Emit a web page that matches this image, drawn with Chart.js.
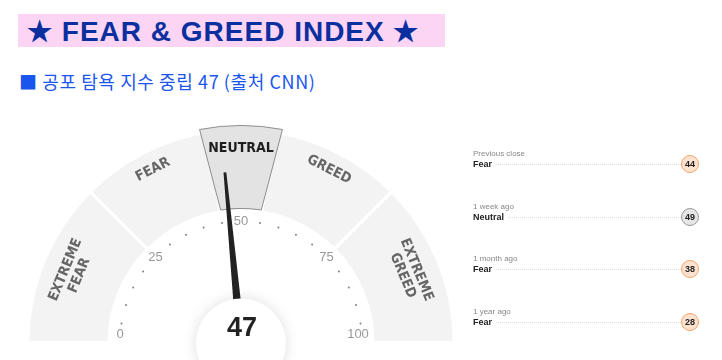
<!DOCTYPE html>
<html><head><meta charset="utf-8">
<script src="https://cdn.jsdelivr.net/npm/chart.js@4"></script>
<style>
html,body{margin:0;padding:0;width:722px;height:360px;overflow:hidden;background:#fff;}
#title{position:absolute;left:18px;top:14px;width:427px;height:33px;background:#fcd5f4;}
#title span{position:absolute;left:9px;top:-1px;font:bold 28px "Liberation Sans",Arial,sans-serif;letter-spacing:1px;color:#0b2f9f;white-space:nowrap;line-height:37px;}
#sub{position:absolute;left:19px;top:69px;font:18px "Noto Sans CJK KR","Noto Sans",sans-serif;letter-spacing:0.6px;color:#1a55ee;white-space:nowrap;line-height:24px;}
#wrap{position:absolute;left:0;top:115px;width:482px;height:278px;}
.row{position:absolute;left:473px;width:230px;height:30px;font-family:"Liberation Sans",Arial,sans-serif;}
.lab{position:absolute;left:0;top:0;font-size:8px;color:#888;line-height:10px;}
.rat{position:absolute;left:0;top:9px;font-size:9px;font-weight:bold;color:#222;line-height:12px;background:#fff;padding-right:4px;}
.dot{position:absolute;left:22px;right:22px;top:15px;border-top:1px dotted #dcdcdc;}
.circ{position:absolute;left:208px;top:6px;width:16px;height:16px;border-radius:50%;font-size:9px;font-weight:bold;color:#222;text-align:center;line-height:16px;}
</style></head>
<body>
<div id="title"><span>★ FEAR &amp; GREED INDEX ★</span></div>
<div id="sub">■ 공포 탐욕 지수 중립 47 (출처 CNN)</div>
<div id="wrap"><canvas id="c"></canvas></div>
<div id="panel"></div>
<script>
// ---- data ----
const zoneNames = [["EXTREME","FEAR"],["FEAR"],["NEUTRAL"],["GREED"],["EXTREME","GREED"]];
const zoneSizes = [25, 20, 10, 20, 25];
const currentValue = 47;
const activeZone = 2;
const tickLabels = [0, 25, 50, 75, 100];
const historyLabels = ["Previous close", "1 week ago", "1 month ago", "1 year ago"];
const historyRatings = ["Fear", "Neutral", "Fear", "Fear"];
const historyValues = [44, 49, 38, 28];

// ---- right panel ----
const panel = document.getElementById('panel');
historyLabels.forEach((l, i) => {
  const r = document.createElement('div');
  r.className = 'row';
  r.style.top = (149 + i * 52.6) + 'px';
  const neutral = historyRatings[i] === 'Neutral';
  r.innerHTML = '<div class="dot"></div><div class="lab">' + l + '</div><div class="rat">' + historyRatings[i] +
    '</div><div class="circ" style="background:' + (neutral ? '#e6e6e6' : '#fde2cf') + ';border:1.5px solid ' +
    (neutral ? '#9a9a9a' : '#f3a46c') + '">' + historyValues[i] + '</div>';
  panel.appendChild(r);
});

// ---- gauge ----
const gaugePlugin = {
  id: 'gauge',
  afterDatasetsDraw(chart) {
    const ctx = chart.ctx;
    const meta = chart.getDatasetMeta(0);
    const arc0 = meta.data[0];
    const cx = arc0.x, cy = arc0.y;
    const R = arc0.outerRadius, r0 = arc0.innerRadius;
    const ang = v => Math.PI + (v / 100) * Math.PI;
    ctx.save();
    // highlighted zone (raised panel)
    const act = meta.data[activeZone];
    const ro = R + 4, ri = r0 + 2;
    const s1 = act.startAngle - 0.035, e1 = act.endAngle + 0.035;
    const s2 = act.startAngle + 0.005, e2 = act.endAngle - 0.005;
    ctx.beginPath();
    ctx.arc(cx, cy, ro, s1, e1);
    ctx.lineTo(cx + Math.cos(e2) * ri, cy + Math.sin(e2) * ri);
    ctx.arc(cx, cy, ri, e2, s2, true);
    ctx.closePath();
    ctx.fillStyle = '#e3e3e3';
    ctx.fill();
    ctx.lineWidth = 1;
    ctx.strokeStyle = '#8f8f8f';
    ctx.stroke();
    // zone labels
    let acc = 0;
    zoneNames.forEach((lines, i) => {
      const mid = acc + zoneSizes[i] / 2; acc += zoneSizes[i];
      const a = ang(mid);
      const n = lines.length;
      lines.forEach((t, j) => {
        const rr = 194 - j * 15 + (n > 1 ? -4 : 0);
        const x = cx + Math.cos(a) * rr, y = cy + Math.sin(a) * rr;
        ctx.save();
        ctx.translate(x, y);
        ctx.rotate(a + Math.PI / 2);
        ctx.font = 'bold 14px "DejaVu Sans Condensed","Liberation Sans Narrow",sans-serif';
        ctx.fillStyle = i === activeZone ? '#1e1e1e' : '#666';
        ctx.textAlign = 'center'; ctx.textBaseline = 'middle';
        ctx.fillText(t, 0, 0);
        ctx.restore();
      });
    });
    // dots & tick labels
    const rt = 121;
    for (let v = 0; v <= 100; v += 5) {
      const a = ang(v);
      const x = cx + Math.cos(a) * rt, y = cy + Math.sin(a) * rt;
      if (tickLabels.includes(v)) {
        ctx.font = '13px "Liberation Sans",Arial,sans-serif';
        ctx.fillStyle = '#999';
        ctx.textAlign = 'center'; ctx.textBaseline = 'middle';
        ctx.fillText(String(v), x + (v === 0 ? 0 : v === 100 ? -4 : 0), Math.min(y, cy - 8));
      } else {
        ctx.fillStyle = '#808080';
        ctx.beginPath(); ctx.arc(x, y, 1, 0, Math.PI * 2); ctx.fill();
      }
    }
    // needle
    const a = ang(currentValue);
    const L = 171;
    const px = -Math.sin(a), py = Math.cos(a);
    const tx = cx + Math.cos(a) * L, ty = cy + Math.sin(a) * L;
    ctx.fillStyle = '#222';
    ctx.beginPath();
    ctx.moveTo(cx + px * 4.5, cy + py * 4.5);
    ctx.lineTo(tx + px * 1.4, ty + py * 1.4);
    ctx.lineTo(tx - px * 1.4, ty - py * 1.4);
    ctx.lineTo(cx - px * 4.5, cy - py * 4.5);
    ctx.closePath(); ctx.fill();
    // center circle
    ctx.save();
    ctx.shadowColor = 'rgba(0,0,0,0.13)';
    ctx.shadowBlur = 14;
    ctx.fillStyle = '#fff';
    ctx.beginPath(); ctx.arc(cx, cy + 1, 45, 0, Math.PI * 2); ctx.fill();
    ctx.restore();
    ctx.fillStyle = '#222';
    ctx.font = 'bold 27px "Liberation Sans",Arial,sans-serif';
    ctx.textAlign = 'center'; ctx.textBaseline = 'middle';
    ctx.fillText(String(currentValue), cx + 1, cy - 14);
    ctx.restore();
  }
};

new Chart(document.getElementById('c'), {
  type: 'doughnut',
  data: {
    labels: zoneNames.map(z => z.join(' ')),
    datasets: [{
      data: zoneSizes,
      backgroundColor: '#f3f3f3',
      borderColor: '#ffffff',
      borderWidth: 3,
      borderJoinStyle: 'miter'
    }]
  },
  options: {
    responsive: true,
    maintainAspectRatio: false,
    animation: false,
    rotation: -90,
    circumference: 180,
    radius: 213,
    cutout: '62%',
    layout: { padding: { bottom: 36 } },
    plugins: { legend: { display: false }, tooltip: { enabled: false } },
    events: []
  },
  plugins: [gaugePlugin]
});
</script>
</body></html>
